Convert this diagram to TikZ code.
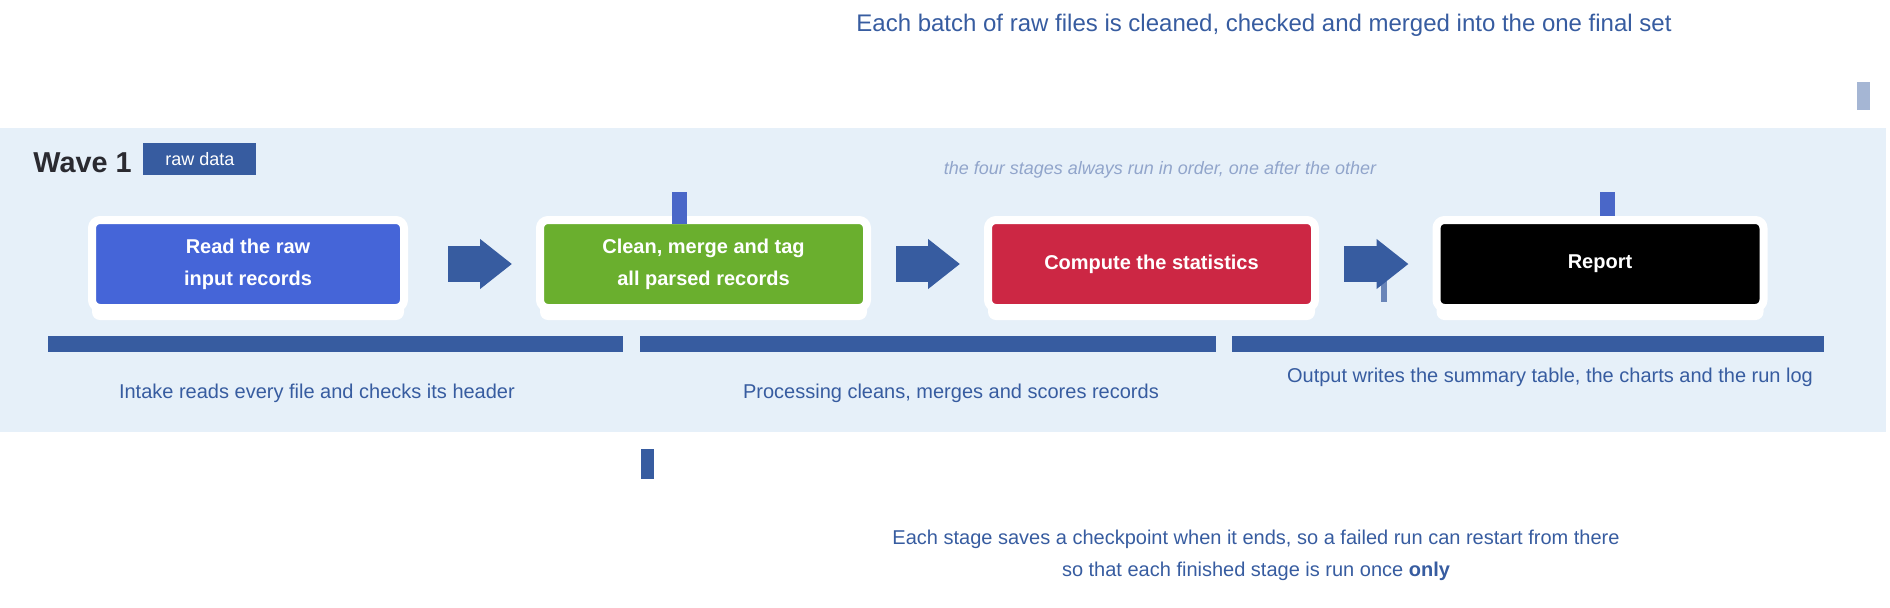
\documentclass[tikz,border=0pt]{standalone}
\usepackage{fontspec}
\setmainfont{Liberation Sans}
\usetikzlibrary{arrows.meta,positioning,shadows}
\definecolor{ink}{HTML}{375CA0}
\definecolor{band}{HTML}{E6F0F9}
\definecolor{cblue}{HTML}{4565D8}
\definecolor{cgreen}{HTML}{6AAF2E}
\definecolor{cred}{HTML}{CC2744}
\definecolor{cmark}{HTML}{4A67C8}
\definecolor{dark}{HTML}{2A2A30}
\begin{document}
\begin{tikzpicture}[x=0.5pt,y=-0.5pt,line join=round,>=stealth]
\tikzset{stage/.style={rectangle,rounded corners=4pt,draw=white,line width=4pt,text=white,font=\bfseries,align=center,minimum width=163.5pt,minimum height=44pt,inner sep=0pt,outer sep=0pt,
		drop shadow={shadow xshift=0pt,shadow yshift=-6pt,opacity=1,fill=white}},
	flow/.style={ink,line width=18pt,-{Triangle[width=24pt,length=16pt]},shorten <=14.5pt,shorten >=14pt},
	note/.style={text=ink,anchor=base west}}
\useasboundingbox (0,0) rectangle (1890,607);
\fill[band] (0,128) rectangle (1886,432);
\node[text=ink,font=\large,anchor=base] (title) at (1264,31) {Each batch of raw files is cleaned, checked and merged into the one final set};
\fill[ink!45] (1857,82) rectangle (1870,110);
\node[text=dark,font=\Large\bfseries,anchor=base west,inner sep=0pt] (wave) at (33,172) {Wave 1};
\node[fill=ink,text=white,font=\small,minimum width=56.5pt,minimum height=16pt,inner sep=1pt,anchor=west] (tag) at (143,159) {raw data};
\node[text=ink!55,font=\small\itshape,anchor=base] (cap) at (1160,174) {the four stages always run in order, one after the other};
\draw[ink!75,line width=3pt] (1384,250) -- (1384,302);
\node[stage,fill=cblue,minimum width=156pt] (read) at (248,264) {Read the raw\\[4pt]input records};
\node[stage,fill=cgreen] (clean) at (703.5,264) {Clean, merge and tag\\[4pt]all parsed records};
\node[stage,fill=cred] (stats) at (1151.5,264) {Compute the statistics};
\node[stage,fill=black] (report) at (1600,264) {Report};
\fill[cmark] (672,192) rectangle (687,224);
\fill[cmark] (1600,192) rectangle (1615,216);
\draw[flow,shorten <=22pt] (read) -- (clean);
\draw[flow] (clean) -- (stats);
\draw[flow] (stats) -- (report);
\foreach \a/\b in {48/623,640/1216,1232/1824}
	\fill[ink] (\a,336) rectangle (\b,352);
\node[note] (intake) at (112,398) {Intake reads every file and checks its header};
\node[note] (process) at (736,398) {Processing cleans, merges and scores records};
\node[note] (output) at (1280,382) {Output writes the summary table, the charts and the run log};
\fill[ink] (641,449) rectangle (654,479);
\node[text=ink,anchor=base] (note1) at (1256,544) {Each stage saves a checkpoint when it ends, so a failed run can restart from there};
\node[text=ink,anchor=base] (note2) at (1256,576) {so that each finished stage is run once \textbf{only}};
\end{tikzpicture}
\end{document}
